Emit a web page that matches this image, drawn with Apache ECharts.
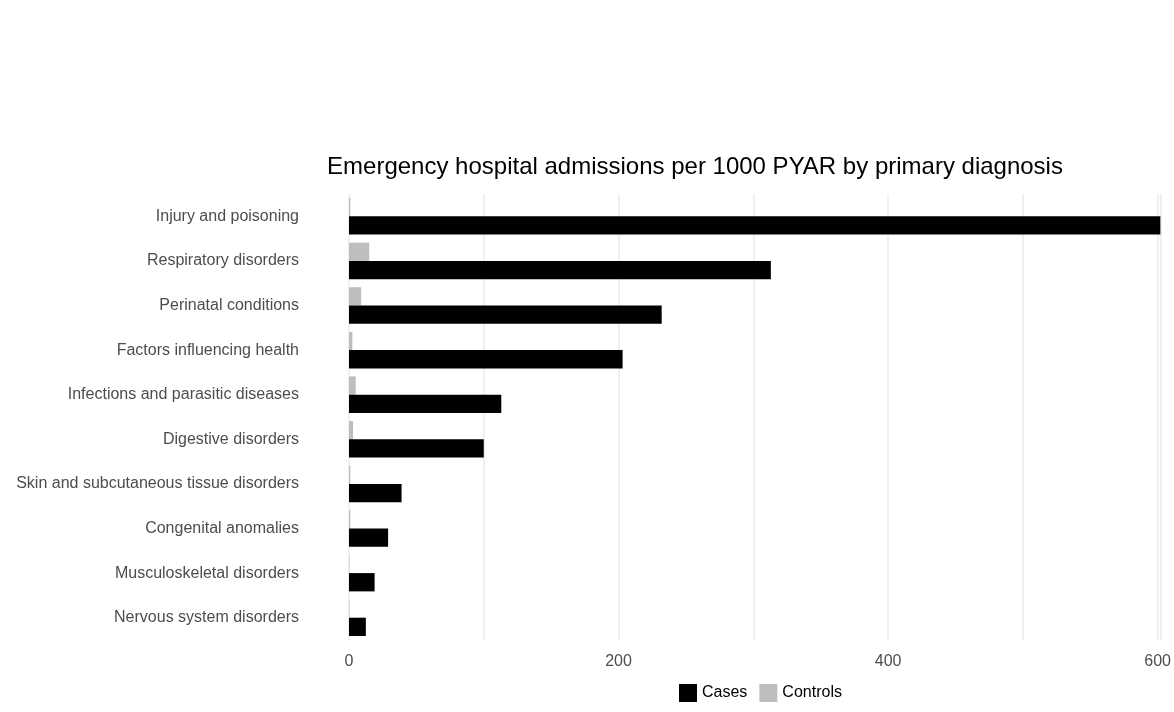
<!DOCTYPE html>
<html>
<head>
<meta charset="utf-8">
<script src="https://cdn.jsdelivr.net/npm/echarts@6/dist/echarts.min.js"></script>
<style>html,body{margin:0;padding:0;background:#fff}#chart{width:1174px;height:712px}</style>
</head>
<body>
<div id="chart"></div>
<script>
// categories, top to bottom
var diagnoses = ['Injury and poisoning', 'Respiratory disorders', 'Perinatal conditions',
  'Factors influencing health', 'Infections and parasitic diseases', 'Digestive disorders',
  'Skin and subcutaneous tissue disorders', 'Congenital anomalies',
  'Musculoskeletal disorders', 'Nervous system disorders'];
var casesRate = [602, 313, 232, 203, 113, 100, 39, 29, 19, 12.5];
var controlsRate = [1, 15, 9, 2.5, 5, 3, 1, 1, 0.3, 0.3];
var xTicks = [0, 200, 400, 600];

var chart = echarts.init(document.getElementById('chart'));
var font = 'Liberation Sans, Arial, sans-serif';
chart.setOption({
  animation: false,
  textStyle: { fontFamily: font },
  title: {
    text: 'Emergency hospital admissions per 1000 PYAR by primary diagnosis',
    left: 690, top: 150, textAlign: 'center',
    textStyle: { fontSize: 24, fontWeight: 'normal', color: '#000', fontFamily: font }
  },
  legend: {
    data: ['Cases', 'Controls'], bottom: 5, left: 'center', itemWidth: 18, itemHeight: 18,
    left: 674, icon: 'rect', itemGap: 12,
    textStyle: { fontSize: 16, color: '#000' }
  },
  grid: { left: 349, right: 6, top: 194, bottom: 72, containLabel: false },
  xAxis: {
    type: 'value', min: 0, max: 602, interval: 100,
    axisLine: { show: false }, axisTick: { show: false },
    splitLine: { lineStyle: { color: '#ebebeb', width: 1.5 } },
    axisLabel: {
      fontSize: 16, color: '#4d4d4d', margin: 14,
      formatter: function (v) { return xTicks.indexOf(v) >= 0 ? String(v) : ''; }
    }
  },
  yAxis: {
    type: 'category', data: diagnoses, inverse: true,
    axisLine: { show: false }, axisTick: { show: false },
    axisLabel: { fontSize: 16, color: '#4d4d4d', margin: 50 }
  },
  series: [
    { name: 'Controls', type: 'bar', data: controlsRate, itemStyle: { color: '#bebebe' },
      barGap: '0%', barCategoryGap: '18%' },
    { name: 'Cases', type: 'bar', data: casesRate, itemStyle: { color: '#000' },
      barGap: '0%', barCategoryGap: '18%' }
  ]
});
</script>
</body>
</html>
